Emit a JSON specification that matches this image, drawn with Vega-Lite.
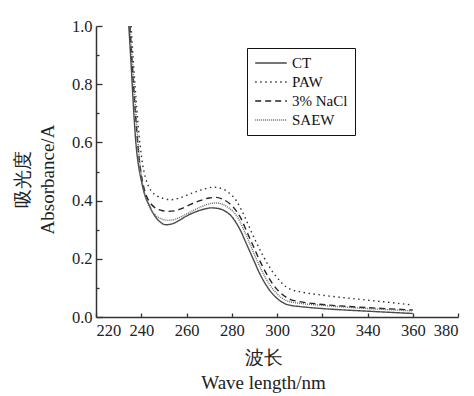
{
  "$schema": "https://vega.github.io/schema/vega-lite/v6.json",
  "width": 362,
  "height": 291,
  "autosize": {"type": "none"},
  "padding": {"left": 96, "top": 26, "right": 16, "bottom": 79},
  "background": "white",
  "config": {
    "view": {"stroke": null},
    "font": "Liberation Serif",
    "axis": {
      "domainColor": "#333",
      "domainWidth": 1.5,
      "tickColor": "#333",
      "tickWidth": 1.3,
      "labelColor": "#222",
      "labelFont": "Liberation Serif",
      "labelFontSize": 16.5,
      "titleFont": "Liberation Serif",
      "titleFontSize": 19,
      "titleFontWeight": "normal",
      "titleColor": "#222",
      "grid": false
    },
    "legend": {
      "labelFont": "Liberation Serif",
      "labelFontSize": 15,
      "labelColor": "#111"
    }
  },
  "data": {
    "values": [
      {"s": "CT", "w": 234.5, "a": 1.0},
      {"s": "CT", "w": 235.5, "a": 0.87},
      {"s": "CT", "w": 236.5, "a": 0.73},
      {"s": "CT", "w": 237.5, "a": 0.61},
      {"s": "CT", "w": 239, "a": 0.51},
      {"s": "CT", "w": 240, "a": 0.47},
      {"s": "CT", "w": 241, "a": 0.435},
      {"s": "CT", "w": 242, "a": 0.41},
      {"s": "CT", "w": 243.5, "a": 0.385},
      {"s": "CT", "w": 245, "a": 0.36},
      {"s": "CT", "w": 246.5, "a": 0.342},
      {"s": "CT", "w": 248, "a": 0.329},
      {"s": "CT", "w": 251, "a": 0.317},
      {"s": "CT", "w": 254, "a": 0.321},
      {"s": "CT", "w": 257, "a": 0.333},
      {"s": "CT", "w": 260, "a": 0.347},
      {"s": "CT", "w": 264, "a": 0.361},
      {"s": "CT", "w": 268, "a": 0.371},
      {"s": "CT", "w": 271, "a": 0.375},
      {"s": "CT", "w": 274, "a": 0.373},
      {"s": "CT", "w": 277, "a": 0.364},
      {"s": "CT", "w": 280, "a": 0.345},
      {"s": "CT", "w": 282, "a": 0.323},
      {"s": "CT", "w": 284, "a": 0.295},
      {"s": "CT", "w": 286, "a": 0.26},
      {"s": "CT", "w": 288, "a": 0.225},
      {"s": "CT", "w": 290, "a": 0.19},
      {"s": "CT", "w": 292, "a": 0.155},
      {"s": "CT", "w": 294, "a": 0.125},
      {"s": "CT", "w": 296, "a": 0.1},
      {"s": "CT", "w": 298, "a": 0.08},
      {"s": "CT", "w": 300, "a": 0.064},
      {"s": "CT", "w": 302, "a": 0.052},
      {"s": "CT", "w": 304, "a": 0.044},
      {"s": "CT", "w": 306, "a": 0.04},
      {"s": "CT", "w": 310, "a": 0.036},
      {"s": "CT", "w": 320, "a": 0.029},
      {"s": "CT", "w": 330, "a": 0.024},
      {"s": "CT", "w": 340, "a": 0.02},
      {"s": "CT", "w": 350, "a": 0.016},
      {"s": "CT", "w": 360, "a": 0.012},

      {"s": "PAW", "w": 235.5, "a": 1.0},
      {"s": "PAW", "w": 236.5, "a": 0.88},
      {"s": "PAW", "w": 237.5, "a": 0.77},
      {"s": "PAW", "w": 238.5, "a": 0.67},
      {"s": "PAW", "w": 239.5, "a": 0.59},
      {"s": "PAW", "w": 240.5, "a": 0.53},
      {"s": "PAW", "w": 242, "a": 0.475},
      {"s": "PAW", "w": 243.5, "a": 0.445},
      {"s": "PAW", "w": 245, "a": 0.428},
      {"s": "PAW", "w": 247, "a": 0.416},
      {"s": "PAW", "w": 250, "a": 0.407},
      {"s": "PAW", "w": 253, "a": 0.403},
      {"s": "PAW", "w": 256, "a": 0.407},
      {"s": "PAW", "w": 260, "a": 0.418},
      {"s": "PAW", "w": 264, "a": 0.43},
      {"s": "PAW", "w": 268, "a": 0.44},
      {"s": "PAW", "w": 272, "a": 0.446},
      {"s": "PAW", "w": 276, "a": 0.44},
      {"s": "PAW", "w": 279, "a": 0.425},
      {"s": "PAW", "w": 282, "a": 0.4},
      {"s": "PAW", "w": 284, "a": 0.372},
      {"s": "PAW", "w": 286, "a": 0.34},
      {"s": "PAW", "w": 288, "a": 0.305},
      {"s": "PAW", "w": 290, "a": 0.27},
      {"s": "PAW", "w": 292, "a": 0.238},
      {"s": "PAW", "w": 294, "a": 0.208},
      {"s": "PAW", "w": 296, "a": 0.18},
      {"s": "PAW", "w": 298, "a": 0.156},
      {"s": "PAW", "w": 300, "a": 0.136},
      {"s": "PAW", "w": 302, "a": 0.118},
      {"s": "PAW", "w": 304, "a": 0.104},
      {"s": "PAW", "w": 306, "a": 0.095},
      {"s": "PAW", "w": 310, "a": 0.087},
      {"s": "PAW", "w": 320, "a": 0.075},
      {"s": "PAW", "w": 330, "a": 0.066},
      {"s": "PAW", "w": 340, "a": 0.058},
      {"s": "PAW", "w": 350, "a": 0.05},
      {"s": "PAW", "w": 360, "a": 0.041},

      {"s": "3% NaCl", "w": 235, "a": 1.0},
      {"s": "3% NaCl", "w": 236, "a": 0.87},
      {"s": "3% NaCl", "w": 237, "a": 0.75},
      {"s": "3% NaCl", "w": 238, "a": 0.64},
      {"s": "3% NaCl", "w": 239, "a": 0.55},
      {"s": "3% NaCl", "w": 240, "a": 0.49},
      {"s": "3% NaCl", "w": 241, "a": 0.45},
      {"s": "3% NaCl", "w": 242, "a": 0.422},
      {"s": "3% NaCl", "w": 244, "a": 0.392},
      {"s": "3% NaCl", "w": 246, "a": 0.376},
      {"s": "3% NaCl", "w": 249, "a": 0.366},
      {"s": "3% NaCl", "w": 252, "a": 0.363},
      {"s": "3% NaCl", "w": 255, "a": 0.365},
      {"s": "3% NaCl", "w": 258, "a": 0.373},
      {"s": "3% NaCl", "w": 262, "a": 0.388},
      {"s": "3% NaCl", "w": 266, "a": 0.4},
      {"s": "3% NaCl", "w": 270, "a": 0.409},
      {"s": "3% NaCl", "w": 273, "a": 0.411},
      {"s": "3% NaCl", "w": 276, "a": 0.405},
      {"s": "3% NaCl", "w": 279, "a": 0.39},
      {"s": "3% NaCl", "w": 282, "a": 0.365},
      {"s": "3% NaCl", "w": 284, "a": 0.34},
      {"s": "3% NaCl", "w": 286, "a": 0.305},
      {"s": "3% NaCl", "w": 288, "a": 0.27},
      {"s": "3% NaCl", "w": 290, "a": 0.235},
      {"s": "3% NaCl", "w": 292, "a": 0.2},
      {"s": "3% NaCl", "w": 294, "a": 0.168},
      {"s": "3% NaCl", "w": 296, "a": 0.14},
      {"s": "3% NaCl", "w": 298, "a": 0.115},
      {"s": "3% NaCl", "w": 300, "a": 0.095},
      {"s": "3% NaCl", "w": 302, "a": 0.08},
      {"s": "3% NaCl", "w": 304, "a": 0.068},
      {"s": "3% NaCl", "w": 306, "a": 0.06},
      {"s": "3% NaCl", "w": 310, "a": 0.053},
      {"s": "3% NaCl", "w": 320, "a": 0.043},
      {"s": "3% NaCl", "w": 330, "a": 0.037},
      {"s": "3% NaCl", "w": 340, "a": 0.032},
      {"s": "3% NaCl", "w": 350, "a": 0.028},
      {"s": "3% NaCl", "w": 360, "a": 0.024},

      {"s": "SAEW", "w": 235, "a": 1.0},
      {"s": "SAEW", "w": 236, "a": 0.89},
      {"s": "SAEW", "w": 237, "a": 0.77},
      {"s": "SAEW", "w": 238, "a": 0.66},
      {"s": "SAEW", "w": 239, "a": 0.56},
      {"s": "SAEW", "w": 240, "a": 0.49},
      {"s": "SAEW", "w": 241, "a": 0.44},
      {"s": "SAEW", "w": 242, "a": 0.41},
      {"s": "SAEW", "w": 244, "a": 0.372},
      {"s": "SAEW", "w": 246, "a": 0.352},
      {"s": "SAEW", "w": 249, "a": 0.337},
      {"s": "SAEW", "w": 252, "a": 0.332},
      {"s": "SAEW", "w": 255, "a": 0.336},
      {"s": "SAEW", "w": 258, "a": 0.346},
      {"s": "SAEW", "w": 262, "a": 0.362},
      {"s": "SAEW", "w": 266, "a": 0.377},
      {"s": "SAEW", "w": 270, "a": 0.389},
      {"s": "SAEW", "w": 273, "a": 0.392},
      {"s": "SAEW", "w": 276, "a": 0.387},
      {"s": "SAEW", "w": 279, "a": 0.373},
      {"s": "SAEW", "w": 282, "a": 0.35},
      {"s": "SAEW", "w": 284, "a": 0.322},
      {"s": "SAEW", "w": 286, "a": 0.288},
      {"s": "SAEW", "w": 288, "a": 0.252},
      {"s": "SAEW", "w": 290, "a": 0.215},
      {"s": "SAEW", "w": 292, "a": 0.18},
      {"s": "SAEW", "w": 294, "a": 0.148},
      {"s": "SAEW", "w": 296, "a": 0.12},
      {"s": "SAEW", "w": 298, "a": 0.098},
      {"s": "SAEW", "w": 300, "a": 0.08},
      {"s": "SAEW", "w": 302, "a": 0.066},
      {"s": "SAEW", "w": 304, "a": 0.057},
      {"s": "SAEW", "w": 306, "a": 0.052},
      {"s": "SAEW", "w": 310, "a": 0.047},
      {"s": "SAEW", "w": 320, "a": 0.04},
      {"s": "SAEW", "w": 330, "a": 0.034},
      {"s": "SAEW", "w": 340, "a": 0.029},
      {"s": "SAEW", "w": 350, "a": 0.025},
      {"s": "SAEW", "w": 360, "a": 0.021}
    ]
  },
  "mark": {"type": "line", "interpolate": "monotone", "strokeWidth": 1.4},
  "encoding": {
    "x": {
      "field": "w",
      "type": "quantitative",
      "scale": {"domain": [220, 380], "nice": false},
      "axis": {
        "values": [220, 240, 260, 280, 300, 320, 340, 360, 380],
        "tickSize": -4,
        "labelPadding": 9,
        "labelFont": "Liberation Serif",
        "titleFont": "Liberation Serif",
        "title": ["波长", "Wave  length/nm"],
        "titleLineHeight": 25,
        "titleX": 167,
        "titleY": 40,
        "titleBaseline": "middle",
        "titleAlign": "center",
        "titleAnchor": null
      }
    },
    "y": {
      "field": "a",
      "type": "quantitative",
      "scale": {"domain": [0, 1], "nice": false},
      "axis": {
        "values": [0, 0.1, 0.2, 0.3, 0.4, 0.5, 0.6, 0.7, 0.8, 0.9, 1.0],
        "labelExpr": "round(datum.value*10) % 2 == 0 ? format(datum.value, '.1f') : ''",
        "tickSize": {"condition": {"test": "round(datum.value*10) % 2 == 0", "value": -6}, "value": -3},
        "labelPadding": 10,
        "labelFont": "Liberation Serif",
        "titleFont": "Liberation Serif",
        "title": ["吸光度", "Absorbance/A"],
        "titleAngle": -90,
        "titleLineHeight": 25,
        "titleX": -74,
        "titleY": 153,
        "titleBaseline": "middle",
        "titleAlign": "center",
        "titleAnchor": null
      }
    },
    "color": {
      "field": "s",
      "type": "nominal",
      "scale": {"domain": ["CT", "PAW", "3% NaCl", "SAEW"], "range": ["#4a4a4a", "#333333", "#222222", "#6a6a6a"]},
      "legend": {
        "title": null,
        "orient": "none",
        "legendX": 151,
        "legendY": 22,
        "padding": 7,
        "strokeColor": "#111",
        "fillColor": "white",
        "symbolType": "stroke",
        "symbolSize": 1000,
        "symbolStrokeWidth": 1.5,
        "clipHeight": 16,
        "rowPadding": 3,
        "labelOffset": 4
      }
    },
    "strokeDash": {
      "field": "s",
      "type": "nominal",
      "scale": {"domain": ["CT", "PAW", "3% NaCl", "SAEW"], "range": [[1, 0], [1.5, 3.5], [6, 4], [1, 1]]},
      "legend": {
        "title": null,
        "orient": "none",
        "legendX": 151,
        "legendY": 22,
        "padding": 7,
        "strokeColor": "#111",
        "fillColor": "white",
        "symbolType": "stroke",
        "symbolSize": 1000,
        "symbolStrokeWidth": 1.5,
        "clipHeight": 16,
        "rowPadding": 3,
        "labelOffset": 4
      }
    }
  }
}
